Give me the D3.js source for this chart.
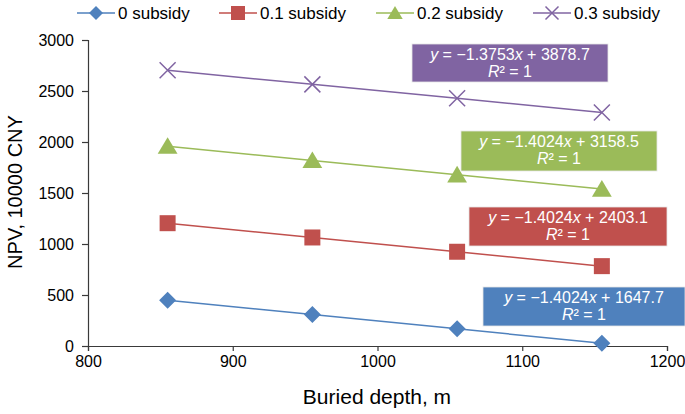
<!DOCTYPE html>
<html>
<head>
<meta charset="utf-8">
<script src="https://cdn.jsdelivr.net/npm/d3@7"></script>
<style>
  body { margin: 0; background: #fff; }
  text { font-family: "Liberation Sans", Arial, sans-serif; }
</style>
</head>
<body>
<div id="chart"></div>
<script>
// depth values and NPV for each subsidy level
let depths = [855, 955, 1055, 1155];
let seriesNames = ["0 subsidy", "0.1 subsidy", "0.2 subsidy", "0.3 subsidy"];
let npv0 = [449, 308, 168, 28];
let npv1 = [1204, 1064, 924, 783];
let npv2 = [1959, 1819, 1679, 1539];
let npv3 = [2703, 2565, 2428, 2290];
let slopes = ["−1.4024", "−1.4024", "−1.4024", "−1.3753"];
let intercepts = ["1647.7", "2403.1", "3158.5", "3878.7"];
let xTicks = [800, 900, 1000, 1100, 1200];
let yTicks = [0, 500, 1000, 1500, 2000, 2500, 3000];

let colors = ["#4F81BD", "#C0504D", "#9BBB59", "#8064A2"];
let allSeries = [npv0, npv1, npv2, npv3];

let width = 685, height = 414;
let svg = d3.select("#chart").append("svg")
  .attr("width", width)
  .attr("height", height);

let x = d3.scaleLinear().domain([800, 1200]).range([88, 667]);
let y = d3.scaleLinear().domain([0, 3000]).range([346, 40]);

// axes
let axisColor = "#3a3a3a";
let xAxis = svg.append("g")
  .attr("transform", `translate(0,${y(0)})`)
  .call(d3.axisBottom(x).tickValues(xTicks).tickSize(5).tickPadding(5).tickFormat(d3.format("d")));
let yAxis = svg.append("g")
  .attr("transform", `translate(${x(800)},0)`)
  .call(d3.axisLeft(y).tickValues(yTicks).tickSize(6).tickPadding(8).tickFormat(d3.format("d")));
[xAxis, yAxis].forEach(a => {
  a.select(".domain").attr("stroke", axisColor).attr("stroke-width", 1.2);
  a.selectAll(".tick line").attr("stroke", axisColor).attr("stroke-width", 1.2);
  a.selectAll(".tick text").attr("fill", "#000").style("font-size", "16px");
});

svg.append("text")
  .attr("x", 377).attr("y", 404)
  .attr("text-anchor", "middle")
  .style("font-size", "21px")
  .text("Buried depth, m");

svg.append("text")
  .attr("transform", "translate(22,192) rotate(-90)")
  .attr("text-anchor", "middle")
  .style("font-size", "20px")
  .text("NPV, 10000 CNY");

// marker shapes: diamond, square, triangle, x
function markerPath(k, r) {
  if (k === 0) return `M0,${-r}L${r},0L0,${r}L${-r},0Z`;
  if (k === 1) return `M${-r},${-r}H${r}V${r}H${-r}Z`;
  if (k === 2) return `M0,${-r}L${r * 1.1},${r * 0.85}H${-r * 1.1}Z`;
  return `M${-r},${-r}L${r},${r}M${-r},${r}L${r},${-r}`;
}

function drawMarker(g, k, cx, cy, r) {
  let p = g.append("path")
    .attr("d", markerPath(k, r))
    .attr("transform", `translate(${cx},${cy})`);
  if (k === 3) p.attr("fill", "none").attr("stroke", colors[k]).attr("stroke-width", 1.5);
  else p.attr("fill", colors[k]);
}

// lines and markers
let line = d3.line().x((d, i) => x(depths[i])).y(d => y(d));
let plotR = [8.5, 8, 9, 8];

allSeries.forEach((vals, k) => {
  let g = svg.append("g");
  g.append("path")
    .attr("d", line(vals))
    .attr("fill", "none")
    .attr("stroke", colors[k])
    .attr("stroke-width", 1.5);
  vals.forEach((v, i) => drawMarker(g, k, x(depths[i]), y(v), plotR[k]));
});

// equation boxes
let boxes = [
  { x: 483, y: 287, w: 202, h: 39 },
  { x: 469, y: 207, w: 198, h: 39 },
  { x: 461, y: 131, w: 196, h: 40 },
  { x: 412, y: 44, w: 196, h: 38 }
];
boxes.forEach((b, k) => {
  let g = svg.append("g");
  g.append("rect")
    .attr("x", b.x).attr("y", b.y).attr("width", b.w).attr("height", b.h)
    .attr("fill", colors[k]).attr("stroke", "#e6e6e6").attr("stroke-width", 0.8);
  let cx = b.x + b.w / 2;
  let t1 = g.append("text")
    .attr("x", cx).attr("y", b.y + 16)
    .attr("text-anchor", "middle")
    .attr("fill", "#fff")
    .style("font-size", "16px");
  t1.append("tspan").style("font-style", "italic").text("y");
  t1.append("tspan").text(` = ${slopes[k]}`);
  t1.append("tspan").style("font-style", "italic").text("x");
  t1.append("tspan").text(` + ${intercepts[k]}`);
  let t2 = g.append("text")
    .attr("x", cx).attr("y", b.y + 33)
    .attr("text-anchor", "middle")
    .attr("fill", "#fff")
    .style("font-size", "16px");
  t2.append("tspan").style("font-style", "italic").text("R");
  t2.append("tspan").text("² = 1");
});

// legend
let legendX = [77, 219, 376, 533];
seriesNames.forEach((name, k) => {
  let g = svg.append("g").attr("transform", `translate(${legendX[k]},13)`);
  g.append("line").attr("x1", 0).attr("x2", 38).attr("y1", 0).attr("y2", 0)
    .attr("stroke", colors[k]).attr("stroke-width", 1.5);
  drawMarker(g, k, 19, 0, k === 3 ? 6.5 : 7);
  g.append("text")
    .attr("x", 41).attr("y", 6)
    .style("font-size", "17px")
    .text(name);
});
</script>
</body>
</html>
